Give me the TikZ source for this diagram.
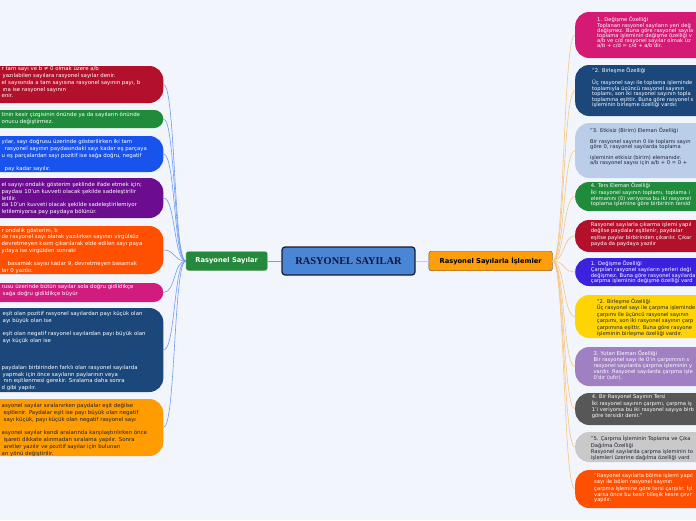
\documentclass[tikz,border=0pt]{standalone}
\usepackage{fontspec}
\setmainfont{Liberation Serif}
\setsansfont{DejaVu Sans}
\usetikzlibrary{positioning}

\definecolor{bgcol}{HTML}{F2F5FC}
\definecolor{rootfill}{HTML}{4A86D6}
\definecolor{rootdraw}{HTML}{1B1B30}
\definecolor{roottext}{HTML}{14143A}
\definecolor{lsayfill}{HTML}{24893C}
\definecolor{rsayfill}{HTML}{FF9E0B}
\definecolor{llinecol}{HTML}{6E9CF2}
\definecolor{rlinecol}{HTML}{F6C57F}
\definecolor{crimson}{HTML}{B3102C}
\definecolor{leafgreen}{HTML}{1F8B3B}
\definecolor{brightblue}{HTML}{1853EE}
\definecolor{grape}{HTML}{6C0C8E}
\definecolor{flame}{HTML}{FF4F00}
\definecolor{berry}{HTML}{D11B7F}
\definecolor{navy}{HTML}{1B477B}
\definecolor{amber}{HTML}{FF9C00}
\definecolor{rose}{HTML}{D41A74}
\definecolor{sky}{HTML}{BACEEA}
\definecolor{indigo}{HTML}{3C22DF}
\definecolor{sun}{HTML}{FFD400}
\definecolor{lilac}{HTML}{A07FC3}
\definecolor{slate}{HTML}{575757}
\definecolor{ash}{HTML}{C9C9C9}
\definecolor{darktext}{HTML}{1E2235}

\begin{document}
\begin{tikzpicture}[
    x=1pt, y=-1pt,
    root/.style={rectangle, draw=rootdraw, line width=1.2pt, fill=rootfill, rounded corners=3pt, minimum width=133pt, minimum height=28pt, text=roottext, font=\fontsize{10.4}{12}\selectfont\bfseries},
    branch/.style={rectangle, rounded corners=2.5pt, minimum height=19.5pt, inner sep=0pt, font=\sffamily\bfseries\fontsize{6.7}{8}\selectfont},
    lleaf/.style={rectangle, anchor=east, minimum width=220pt, inner sep=0pt, rounded corners=14pt},
    rleaf/.style={rectangle, anchor=west, minimum width=220pt, inner sep=0pt, rounded corners=14pt},
    ltext/.style={anchor=north west, align=left, inner sep=0pt, execute at begin node=\rule{0pt}{5pt}, font=\sffamily\fontsize{5.4}{6.75}\selectfont},
    rtext/.style={anchor=north west, align=left, inner sep=0pt, execute at begin node=\rule{0pt}{5pt}, font=\sffamily\fontsize{5.2}{#1}\selectfont},
    rtext/.default=5.7,
    llink/.style={draw=llinecol, line width=0.6pt},
    rlink/.style={draw=rlinecol, line width=0.6pt}
]

\useasboundingbox (0,0) rectangle (696,520);
\fill[bgcol] (0,0) rectangle (696,520);
\clip (0,0) rectangle (696,520);

\node[root] (root) at (348.5,261) {RASYONEL SAYILAR};
\node[branch, fill=lsayfill, draw=white!75!gray, text=white, minimum width=81.6pt, left=13.7pt of root] (lsay) {Rasyonel Sayılar};
\node[branch, fill=rsayfill, draw=black!70, text=black, minimum width=123.7pt, right=13pt of root] (rsay) {Rasyonel Sayılarla İşlemler};

\node[lleaf, fill=crimson, minimum height=37pt] (l1) at (163.5,84.5) {};
\node[lleaf, fill=leafgreen, minimum height=18pt, rounded corners=9pt] (l2) at (163.5,119) {};
\node[lleaf, fill=brightblue, minimum height=36pt] (l3) at (163.5,154) {};
\node[lleaf, fill=grape, minimum height=40pt] (l4) at (163.5,198) {};
\node[lleaf, fill=flame, minimum height=48pt] (l5) at (163.5,250) {};
\node[lleaf, fill=berry, minimum height=19pt, rounded corners=9.5pt] (l6) at (163.5,292.5) {};
\node[lleaf, fill=navy, minimum height=84pt] (l7) at (163.5,350) {};
\node[lleaf, fill=amber, minimum height=57pt] (l8) at (163.5,427.5) {};

\node[ltext, text=white] (l1t) at (1.5,66.5) {r tam sayı ve b ≠ 0 olmak üzere a/b\\ \hspace*{1pt}yazılabilen sayılara rasyonel sayılar denir.\\el sayısında a tam sayısına rasyonel sayının payı, b\\ \hspace*{1pt}ına ise rasyonel sayının\\enir.};
\node[ltext, text=white] (l2t) at (1.5,112.3) {tinin kesir çizgisinin önünde ya da sayıların önünde\\onucu değiştirmez.};
\node[ltext, text=white] (l3t) at (1.5,139.3) {yılar, sayı doğrusu üzerinde gösterilirken iki tam\\ \hspace*{3pt}rasyonel sayının paydasındaki sayı kadar eş parçaya\\u eş parçalardan sayı pozitif ise sağa doğru, negatif\\[6.75pt] \hspace*{3pt}pay kadar sayılır.};
\node[ltext, text=white] (l4t) at (1.5,182.3) {el sayıyı ondalık gösterim şeklinde ifade etmek için;\\paydası 10'un kuvveti olacak şekilde sadeleştirilir\\letilir.\\da 10'un kuvveti olacak şekilde sadeleştirilemiyor\\letilemiyorsa pay paydaya bölünür.};
\node[ltext, text=white] (l5t) at (1.5,227.8) {r ondalık gösterim, b\\de rasyonel sayı olarak yazılırken sayının virgülsüz\\devretmeyen kısım çıkarılarak elde edilen sayı paya\\ydaya ise virgülden sonraki\\[6.75pt] \hspace*{6pt}basamak sayısı kadar 9, devretmeyen basamak\\lar 0 yazılır.};
\node[ltext, text=white] (l6t) at (1.5,284.2) {rusu üzerinde bütün sayılar sola doğru gidildikçe\\ \hspace*{1pt}sağa doğru gidildikçe büyür};
\node[ltext, text=white] (l7t) at (1.5,311) {\hspace*{1pt}eşit olan pozitif rasyonel sayılardan payı küçük olan\\ \hspace*{1pt}ayı büyük olan ise\\[6.75pt] \hspace*{1pt}eşit olan negatif rasyonel sayılardan payı büyük olan\\ \hspace*{1pt}ayı küçük olan ise\\[20.25pt] paydaları birbirinden farklı olan rasyonel sayılarda\\ \hspace*{1pt}yapmak için önce sayıların paylarının veya\\ \hspace*{2pt}nın eşitlenmesi gerekir. Sıralama daha sonra\\d gibi yapılır.};
\node[ltext, text=darktext] (l8t) at (1.5,403.5) {asyonel sayılar sıralanırken paydalar eşit değilse\\ \hspace*{2pt}eşitlenir. Paydalar eşit ise payı büyük olan negatif\\ \hspace*{2pt}sayı küçük, payı küçük olan negatif rasyonel sayı\\[6.75pt] asyonel sayılar kendi aralarında karşılaştırılırken önce\\ \hspace*{2pt}işareti dikkate alınmadan sıralama yapılır. Sonra\\ \hspace*{2pt}aretler yazılır ve pozitif sayılar için bulunan\\an yönü değiştirilir.};

\node[rleaf, fill=rose, minimum height=46pt] (r1) at (575,35) {};
\node[rleaf, fill=navy, minimum height=51pt] (r2) at (575,90.5) {};
\node[rleaf, fill=sky, minimum height=55pt] (r3) at (575,150.5) {};
\node[rleaf, fill=leafgreen, minimum height=29pt] (r4) at (575,196.5) {};
\node[rleaf, fill=crimson, minimum height=32pt] (r5) at (575,236) {};
\node[rleaf, fill=indigo, minimum height=28pt] (r6) at (575,272) {};
\node[rleaf, fill=sun, minimum height=43pt] (r7) at (575,316.5) {};
\node[rleaf, fill=lilac, minimum height=39pt] (r8) at (575,366.5) {};
\node[rleaf, fill=slate, minimum height=32pt] (r9) at (575,409) {};
\node[rleaf, fill=ash, minimum height=30pt] (r10) at (575,447) {};
\node[rleaf, fill=flame, minimum height=38pt] (r11) at (575,489) {};

\node[rtext=5.2, text=white] (r1t) at (597,17) {1. Değişme Özelliği\\Toplanan rasyonel sayıların yeri değ\\değişmez. Buna göre rasyonel sayıla\\toplama işleminin değişme özelliği v\\a/b ve c/d rasyonel sayılar olmak üz\\a/b + c/d = c/d + a/b'dir.};
\node[rtext=5.5, text=white] (r2t) at (592,67.5) {"2. Birleşme Özelliği\\[5.5pt]Üç rasyonel sayı ile toplama işleminde\\toplamıyla üçüncü rasyonel sayının\\toplamı, son iki rasyonel sayının topla\\toplamına eşittir. Buna göre rasyonel s\\işleminin birleşme özelliği vardır.};
\node[rtext=5.3, text=darktext] (r3t) at (590,127.8) {"3. Etkisiz (Birim) Eleman Özelliği\\[5.3pt]Bir rasyonel sayının 0 ile toplamı sayın\\göre 0, rasyonel sayılarda toplama\\[5.3pt]işleminin etkisiz (birim) elemanıdır.\\a/b rasyonel sayısı için a/b + 0 = 0 +};
\node[rtext=5.3, text=white] (r4t) at (590.7,183) {4. Ters Eleman Özelliği\\İki rasyonel sayının toplamı, toplama i\\elemanını (0) veriyorsa bu iki rasyonel\\toplama işlemine göre birbirinin tersid};
\node[rtext=6.3, text=white] (r5t) at (590.7,222.5) {Rasyonel sayılarla çıkarma işlemi yapıl\\değilse paydalar eşitlenir, paydalar\\eşitse paylar birbirinden çıkarılır. Çıkar\\payda da paydaya yazılır};
\node[rtext, text=white] (r6t) at (590.7,260.8) {1. Değişme Özelliği\\Çarpılan rasyonel sayıların yerleri deği\\değişmez. Buna göre rasyonel sayılarda\\çarpma işleminin değişme özelliği vard};
\node[rtext=6.4, text=darktext] (r7t) at (596.7,298.5) {"2. Birleşme Özelliği\\Üç rasyonel sayı ile çarpma işleminde\\çarpımı ile üçüncü rasyonel sayının\\çarpımı, son iki rasyonel sayının çarp\\çarpımına eşittir. Buna göre rasyone\\işleminin birleşme özelliği vardır.};
\node[rtext=5.85, text=white] (r8t) at (593.3,350.8) {3. Yutan Eleman Özelliği\\Bir rasyonel sayı ile 0'ın çarpımının s\\rasyonel sayılarda çarpma işleminin y\\vardır. Rasyonel sayılarda çarpma işle\\0'dır (sıfır).};
\node[rtext=5.8, text=white] (r9t) at (591.7,394.8) {4. Bir Rasyonel Sayının Tersi\\İki rasyonel sayının çarpımı, çarpma iş\\1'i veriyorsa bu iki rasyonel sayıya birb\\göre tersidir denir."};
\node[rtext=5.8, text=darktext] (r10t) at (590.7,435.8) {"5. Çarpma İşleminin Toplama ve Çıka\\Dağılma Özelliği\\Rasyonel sayılarda çarpma işleminin to\\işlemleri üzerine dağılma özelliği vard};
\node[rtext=5.8, text=white] (r11t) at (594,473.5) {"Rasyonel sayılarla bölme işlemi yapıl\\sayı ile bölen rasyonel sayının\\çarpma işlemine göre tersi çarpılır. İşl\\varsa önce bu kesir bileşik kesre çevr\\yapılır.};

\draw[llink] (root) -- (lsay);
\draw[rlink] (root) -- (rsay);

\draw[llink] (lsay.west) .. controls +(-12,0) and +(12,0) .. (l1.east);
\draw[llink] (lsay.west) .. controls +(-12,0) and +(12,0) .. (l2.east);
\draw[llink] (lsay.west) .. controls +(-12,0) and +(12,0) .. (l3.east);
\draw[llink] (lsay.west) .. controls +(-12,0) and +(12,0) .. (l4.east);
\draw[llink] (lsay.west) .. controls +(-12,0) and +(12,0) .. (l5.east);
\draw[llink] (lsay.west) .. controls +(-12,0) and +(12,0) .. (l6.east);
\draw[llink] (lsay.west) .. controls +(-12,0) and +(12,0) .. (l7.east);
\draw[llink] (lsay.west) .. controls +(-12,0) and +(12,0) .. (l8.east);

\draw[rlink] (rsay.east) .. controls +(12,0) and +(-12,0) .. (r1.west);
\draw[rlink] (rsay.east) .. controls +(12,0) and +(-12,0) .. (r2.west);
\draw[rlink] (rsay.east) .. controls +(12,0) and +(-12,0) .. (r3.west);
\draw[rlink] (rsay.east) .. controls +(12,0) and +(-12,0) .. (r4.west);
\draw[rlink] (rsay.east) .. controls +(12,0) and +(-12,0) .. (r5.west);
\draw[rlink] (rsay.east) .. controls +(12,0) and +(-12,0) .. (r6.west);
\draw[rlink] (rsay.east) .. controls +(12,0) and +(-12,0) .. (r7.west);
\draw[rlink] (rsay.east) .. controls +(12,0) and +(-12,0) .. (r8.west);
\draw[rlink] (rsay.east) .. controls +(12,0) and +(-12,0) .. (r9.west);
\draw[rlink] (rsay.east) .. controls +(12,0) and +(-12,0) .. (r10.west);
\draw[rlink] (rsay.east) .. controls +(12,0) and +(-12,0) .. (r11.west);

\end{tikzpicture}
\end{document}
